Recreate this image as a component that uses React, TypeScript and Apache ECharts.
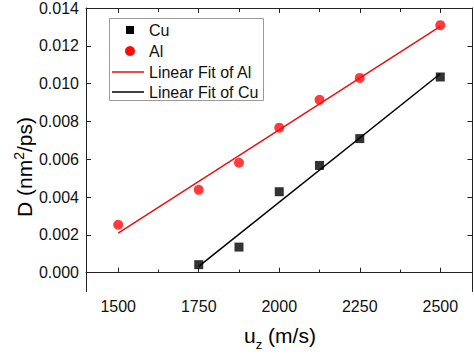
import React, { useEffect, useRef } from "react";
import * as echarts from "echarts";

const cuX = [1750, 1875, 2000, 2125, 2250, 2500];
const cuY = [0.00042, 0.00135, 0.00428, 0.00567, 0.00709, 0.01035];
const alX = [1500, 1750, 1875, 2000, 2125, 2250, 2500];
const alY = [0.00253, 0.00438, 0.00581, 0.00767, 0.00914, 0.0103, 0.01309];
const xMajorTicks = [1500, 1750, 2000, 2250, 2500];
const xMinorTicks = [1625, 1875, 2125, 2375];
const yTicks = [0, 0.002, 0.004, 0.006, 0.008, 0.01, 0.012, 0.014];
const legendLabels = ["Cu", "Al", "Linear Fit of Al", "Linear Fit of Cu"];

const FONT = "'Liberation Sans', Arial, sans-serif";
const RED = "#ff0a0a";
const RED_LINE = "#e81010";
const BLACK = "#000000";
const AXIS = "#222222";

function fit(xs: number[], ys: number[]) {
  const n = xs.length;
  const mx = xs.reduce((a, b) => a + b, 0) / n;
  const my = ys.reduce((a, b) => a + b, 0) / n;
  let sxy = 0;
  let sxx = 0;
  for (let i = 0; i < n; i++) {
    sxy += (xs[i] - mx) * (ys[i] - my);
    sxx += (xs[i] - mx) * (xs[i] - mx);
  }
  const k = sxy / sxx;
  const b = my - k * mx;
  const x0 = Math.min(...xs);
  const x1 = Math.max(...xs);
  return [
    [x0, k * x0 + b],
    [x1, k * x1 + b],
  ];
}

export default function App() {
  const ref = useRef<HTMLDivElement>(null);
  useEffect(() => {
    if (!ref.current) return;
    const chart = echarts.init(ref.current, null, { renderer: "svg" });
    const xBase = {
      type: "value",
      min: 1400,
      max: 2600,
      splitLine: { show: false },
    };
    const yBase = {
      type: "value",
      min: -0.001,
      max: 0.014,
      splitLine: { show: false },
    };
    const lineStyle = { color: AXIS, width: 1 };
    chart.setOption({
      animation: false,
      backgroundColor: "#ffffff",
      grid: { left: 86, top: 8, right: 1.5, bottom: 62.5, containLabel: false },
      xAxis: [
        {
          ...xBase,
          position: "bottom",
          axisLine: { show: true, lineStyle },
          axisTick: { show: true, inside: true, length: 5, customValues: xMajorTicks, lineStyle },
          axisLabel: {
            show: true,
            customValues: xMajorTicks,
            formatter: (v: number) => String(Math.round(v)),
            fontSize: 16,
            fontFamily: FONT,
            color: "#111",
            margin: 7,
          },
        },
        {
          ...xBase,
          position: "bottom",
          axisLine: { show: false },
          axisTick: { show: true, inside: true, length: 3, customValues: xMinorTicks, lineStyle },
          axisLabel: { show: false },
        },
        {
          ...xBase,
          position: "top",
          axisLine: { show: true, lineStyle },
          axisTick: { show: true, inside: true, length: 5, customValues: xMajorTicks, lineStyle },
          axisLabel: { show: false },
        },
        {
          ...xBase,
          position: "top",
          axisLine: { show: false },
          axisTick: { show: true, inside: true, length: 4, customValues: xMinorTicks, lineStyle },
          axisLabel: { show: false },
        },
      ],
      yAxis: [
        {
          ...yBase,
          position: "left",
          axisLine: { show: true, lineStyle },
          axisTick: { show: true, inside: true, length: 5, customValues: yTicks, lineStyle },
          axisLabel: {
            show: true,
            customValues: yTicks,
            formatter: (v: number) => v.toFixed(3),
            fontSize: 16,
            fontFamily: FONT,
            color: "#111",
            margin: 7,
          },
        },
        {
          ...yBase,
          position: "right",
          axisLine: { show: true, lineStyle },
          axisTick: { show: true, inside: true, length: 5, customValues: yTicks, lineStyle },
          axisLabel: { show: false },
        },
      ],
      series: [
        {
          name: legendLabels[2],
          type: "line",
          data: fit(alX, alY),
          symbol: "none",
          lineStyle: { color: RED_LINE, width: 1.5 },
          z: 2,
        },
        {
          name: legendLabels[3],
          type: "line",
          data: fit(cuX, cuY),
          symbol: "none",
          lineStyle: { color: BLACK, width: 1.5 },
          z: 2,
        },
        {
          name: legendLabels[0],
          type: "scatter",
          data: cuX.map((x, i) => [x, cuY[i]]),
          symbol: "rect",
          symbolSize: 9,
          itemStyle: { color: BLACK },
          z: 3,
        },
        {
          name: legendLabels[1],
          type: "scatter",
          data: alX.map((x, i) => [x, alY[i]]),
          symbol: "circle",
          symbolSize: 10,
          itemStyle: { color: RED },
          z: 3,
        },
      ],
      graphic: [
        {
          type: "rect",
          shape: { x: 109.5, y: 18.5, width: 154, height: 82 },
          style: { fill: "#ffffff", stroke: "#9a9a9a", lineWidth: 1 },
          z: 10,
        },
        {
          type: "rect",
          shape: { x: 126, y: 26, width: 8, height: 8 },
          style: { fill: BLACK },
          z: 11,
        },
        {
          type: "circle",
          shape: { cx: 130, cy: 51, r: 5 },
          style: { fill: RED },
          z: 11,
        },
        {
          type: "line",
          shape: { x1: 112, y1: 72, x2: 144, y2: 72 },
          style: { stroke: RED_LINE, lineWidth: 1.5 },
          z: 11,
        },
        {
          type: "line",
          shape: { x1: 112, y1: 92, x2: 144, y2: 92 },
          style: { stroke: BLACK, lineWidth: 1.5 },
          z: 11,
        },
        ...legendLabels.map((t, i) => ({
          type: "text",
          x: 149,
          y: [30, 51, 72, 92][i],
          style: {
            text: t,
            font: `16px ${FONT}`,
            fill: "#111",
            verticalAlign: "middle",
            align: "left",
          },
          z: 11,
        })),
        {
          type: "text",
          x: 280,
          y: 335,
          style: {
            text: "{a|u}{s|z}{a| (m/s)}",
            align: "center",
            verticalAlign: "middle",
            rich: {
              a: { fontSize: 21, fontFamily: FONT, color: "#111", lineHeight: 24 },
              s: { fontSize: 13, fontFamily: FONT, color: "#111", verticalAlign: "bottom", lineHeight: 14, padding: [0, 0, -4, 0] },
            },
          },
        },
        {
          type: "text",
          x: 24,
          y: 167,
          rotation: Math.PI / 2,
          style: {
            text: "{a|D (nm}{s|2}{a|/ps)}",
            align: "center",
            verticalAlign: "middle",
            rich: {
              a: { fontSize: 21, fontFamily: FONT, color: "#111", lineHeight: 24 },
              s: { fontSize: 14, fontFamily: FONT, color: "#111", verticalAlign: "top", lineHeight: 14, padding: [0, 0, 12, 0] },
            },
          },
        },
      ],
    });
    return () => chart.dispose();
  }, []);
  return <div ref={ref} style={{ width: 474, height: 354, position: "absolute", left: 0, top: 0 }} />;
}
